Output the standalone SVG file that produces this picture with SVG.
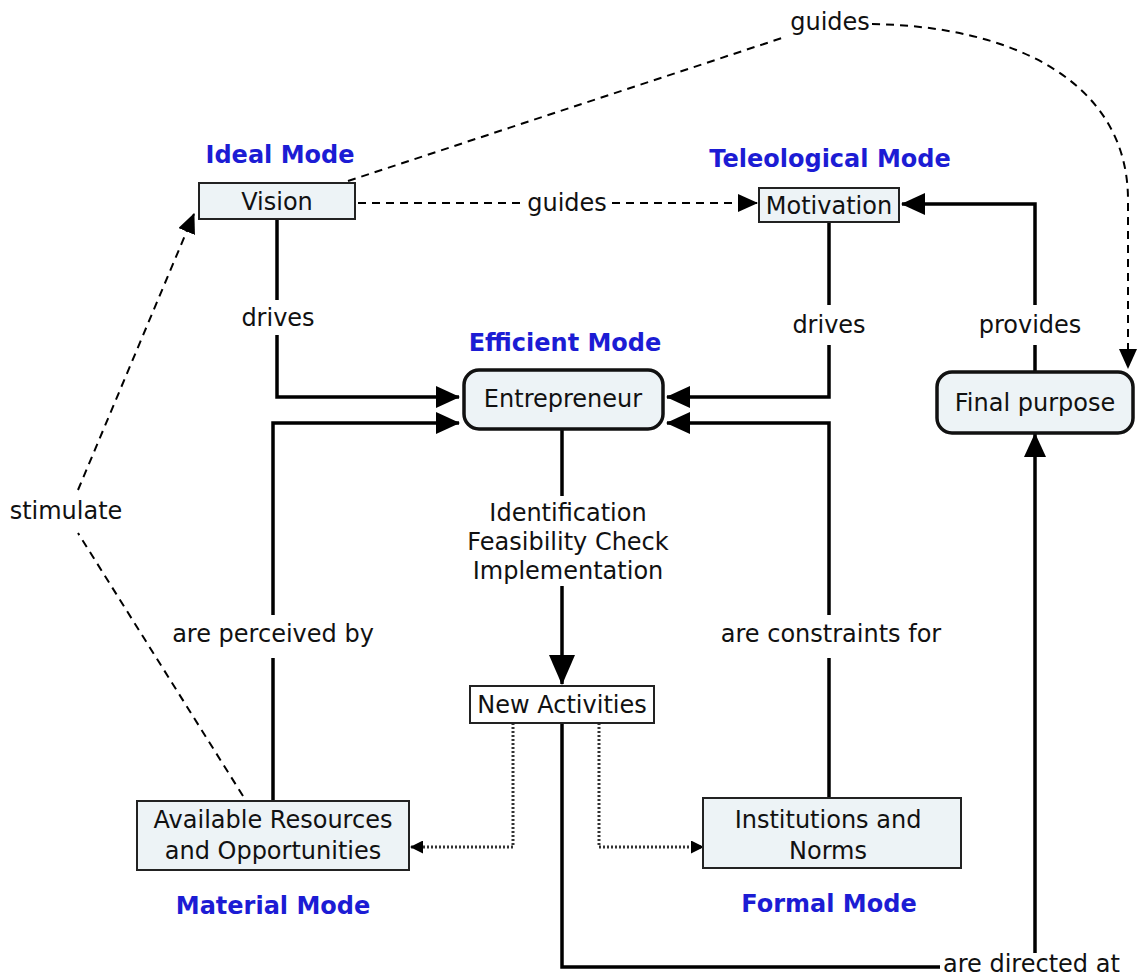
<svg xmlns="http://www.w3.org/2000/svg" width="1137" height="977" viewBox="0 0 1137 977">
  <style>
    text { font-family: "DejaVu Sans", Verdana, sans-serif; fill: #111; font-size: 24px; text-anchor: middle; }
    .mode { font-weight: bold; fill: #1c1cd4; font-size: 24px; }
    .box { fill: #edf3f6; stroke: #222; stroke-width: 2; }
    .rbox { fill: #edf3f6; stroke: #111; stroke-width: 3.5; }
    .solid { fill: none; stroke: #000; stroke-width: 3.5; }
    .dash { fill: none; stroke: #000; stroke-width: 2; stroke-dasharray: 8 6; }
    .dot { fill: none; stroke: #333; stroke-width: 3; stroke-dasharray: 2 2; }
  </style>
  <defs>
    <marker id="big" markerUnits="userSpaceOnUse" markerWidth="24" markerHeight="24" viewBox="0 0 24 24" refX="23" refY="12" orient="auto">
      <path d="M0 1 L24 12 L0 23 Z" fill="#000"/>
    </marker>
    <marker id="huge" markerUnits="userSpaceOnUse" markerWidth="30" markerHeight="26" viewBox="0 0 30 26" refX="29" refY="13" orient="auto">
      <path d="M0 0 L30 13 L0 26 Z" fill="#000"/>
    </marker>
    <marker id="thin" markerUnits="userSpaceOnUse" markerWidth="20" markerHeight="18" viewBox="0 0 20 18" refX="19" refY="9" orient="auto">
      <path d="M0 0 L20 9 L0 18 Z" fill="#000"/>
    </marker>
    <marker id="tiny" markerUnits="userSpaceOnUse" markerWidth="13" markerHeight="13" viewBox="0 0 13 13" refX="12" refY="6.5" orient="auto">
      <path d="M0 0 L13 6.5 L0 13 Z" fill="#000"/>
    </marker>
  </defs>

  <g id="connectors">
    <!-- Vision drives Entrepreneur -->
    <path class="solid" d="M277 219 V300"/>
    <path class="solid" d="M277 335 V397 H459" marker-end="url(#big)"/>
    <!-- Resources are perceived by Entrepreneur -->
    <path class="solid" d="M273 801 V658"/>
    <path class="solid" d="M273 615 V423 H459" marker-end="url(#big)"/>
    <!-- Motivation drives Entrepreneur -->
    <path class="solid" d="M829 222 V305"/>
    <path class="solid" d="M829 345 V397 H667" marker-end="url(#big)"/>
    <!-- Institutions constrain Entrepreneur -->
    <path class="solid" d="M829 798 V658"/>
    <path class="solid" d="M829 615 V423 H667" marker-end="url(#big)"/>
    <!-- Final purpose provides Motivation -->
    <path class="solid" d="M1035 372 V345"/>
    <path class="solid" d="M1035 305 V204 H902" marker-end="url(#big)"/>
    <!-- Entrepreneur to New Activities -->
    <path class="solid" d="M562 429 V496"/>
    <path class="solid" d="M562 586 V684" marker-end="url(#huge)"/>
    <!-- New Activities are directed at Final purpose -->
    <path class="solid" d="M562 723 V967 H940"/>
    <path class="solid" d="M1035 953 V434" marker-end="url(#big)"/>
    <!-- New Activities feed back to resources and institutions -->
    <path class="dot" d="M513 723 V847 H411" marker-end="url(#tiny)"/>
    <path class="dot" d="M599 723 V847 H703" marker-end="url(#tiny)"/>
    <!-- Vision guides Motivation -->
    <path class="dash" d="M358 203 H522"/>
    <path class="dash" d="M612 203 H757" marker-end="url(#thin)"/>
    <!-- Vision guides Final purpose -->
    <path class="dash" d="M348 181 L782 38"/>
    <path class="dash" d="M872 24 C1010 26 1128 80 1128 200 L1128 368" marker-end="url(#thin)"/>
    <!-- Resources stimulate Vision -->
    <path class="dash" d="M243 796 L78 533"/>
    <path class="dash" d="M78 490 L194 214" marker-end="url(#thin)"/>
  </g>

  <g id="labels">
    <text x="830" y="30">guides</text>
    <text x="567" y="211">guides</text>
    <text x="278" y="326">drives</text>
    <text x="829" y="333">drives</text>
    <text x="1030" y="333">provides</text>
    <text x="568" y="521">Identification</text>
    <text x="568" y="550">Feasibility Check</text>
    <text x="568" y="579">Implementation</text>
    <text x="273" y="642">are perceived by</text>
    <text x="831" y="642">are constraints for</text>
    <text x="66" y="519">stimulate</text>
    <text x="943" y="972" style="text-anchor:start">are directed at</text>
  </g>

  <g id="mode-labels">
    <text class="mode" x="280" y="163">Ideal Mode</text>
    <text class="mode" x="830" y="167">Teleological Mode</text>
    <text class="mode" x="565" y="351">Efficient Mode</text>
    <text class="mode" x="273" y="914">Material Mode</text>
    <text class="mode" x="829" y="912">Formal Mode</text>
  </g>

  <g id="vision">
    <rect class="box" x="199" y="183" width="156" height="36"/>
    <text x="277" y="210">Vision</text>
  </g>
  <g id="motivation">
    <rect class="box" x="759" y="188" width="140" height="34"/>
    <text x="829" y="214">Motivation</text>
  </g>
  <g id="entrepreneur">
    <rect class="rbox" x="464" y="370" width="199" height="59" rx="15"/>
    <text x="563" y="407">Entrepreneur</text>
  </g>
  <g id="final-purpose">
    <rect class="rbox" x="937" y="372" width="196" height="61" rx="15"/>
    <text x="1035" y="411">Final purpose</text>
  </g>
  <g id="new-activities">
    <rect x="470" y="686" width="184" height="37" fill="#fff" stroke="#222" stroke-width="2"/>
    <text x="562" y="713">New Activities</text>
  </g>
  <g id="resources">
    <rect class="box" x="137" y="801" width="272" height="69"/>
    <text x="273" y="828">Available Resources</text>
    <text x="273" y="859">and Opportunities</text>
  </g>
  <g id="institutions">
    <rect class="box" x="703" y="798" width="258" height="70"/>
    <text x="828" y="828">Institutions and</text>
    <text x="828" y="859">Norms</text>
  </g>
</svg>
